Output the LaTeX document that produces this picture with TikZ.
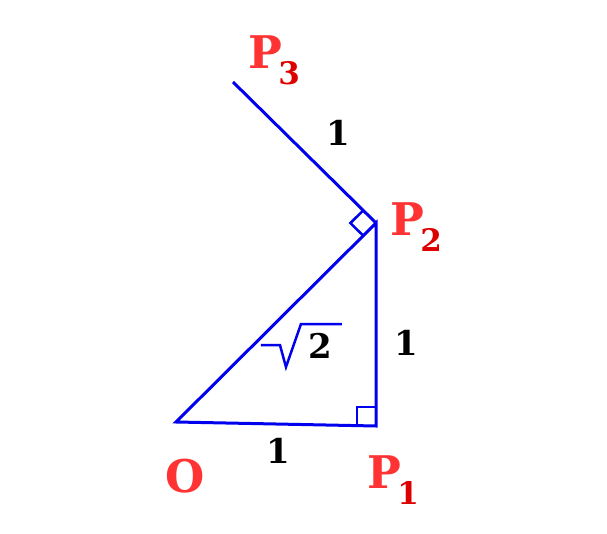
\documentclass[tikz,border=0pt]{standalone}
\usepackage{fontspec}
\setmainfont{DejaVu Serif}
\usetikzlibrary{positioning}
\usetikzlibrary{calc}
\definecolor{ptred}{RGB}{255,51,51}
\definecolor{subred}{RGB}{221,0,0}
\definecolor{edgeblue}{RGB}{0,0,238}
\tikzset{edge/.style={draw, edgeblue, line width=3pt}}
\newcommand{\ptname}[1]{P\kern-0.08em\raisebox{-0.36em}{\fontsize{31}{31}\selectfont\color{subred}#1}}

\begin{document}
\begin{tikzpicture}[x=1pt, y=-1pt]
\tikzstyle{pt} = [text=ptred, font=\fontsize{45}{45}\selectfont\bfseries, inner sep=0pt]
\tikzstyle{len} = [text=black, font=\fontsize{34}{34}\selectfont\bfseries, inner sep=0pt]

\useasboundingbox (0,0) rectangle (607,534);
% points
    \coordinate (O) at (176,422);
    \coordinate (P1) at (376,426);
    \coordinate (P2) at (376,223);
    \coordinate (P3) at (233,82);
% labels
    \node [pt] (Olabel) at (185,476) {O};
    \node [pt] (P1label) at (393,480) {\ptname{1}};
    \node [pt] (P2label) at (416,227) {\ptname{2}};
    \node [pt] (P3label) at (274,60) {\ptname{3}};
    \node [len] (OP1) at (278,451) {1};
    \node [len] (P1P2) at (406,343) {1};
    \node [len] (P2P3) at (338,133) {1};
    \node [len] (OP2) at (320,346) {2};
% lines
    \path [edge] (O) -- (P1) -- (P2) -- cycle;
    \path [edge] (P2) -- (P3);
    % right angles
    \path [edge, line width=2.5pt] ($(P1)+(-19,0)$) -- ++(0,-19) -- ++(19,0);
    \path [edge, line width=2.5pt] ($(P2)!18pt!(P3)$) -- ($(P2)!18pt!(P3)+(P2)!18pt!(O)-(P2)$) -- ($(P2)!18pt!(O)$);
    % root sign
    \path [edge, line width=2.5pt] ($(OP2.west)+(-47,-1)$) -- ++(19,0) -- ++(6,22) -- ++(15,-43) -- ++(41,0);
\end{tikzpicture}
\end{document}
